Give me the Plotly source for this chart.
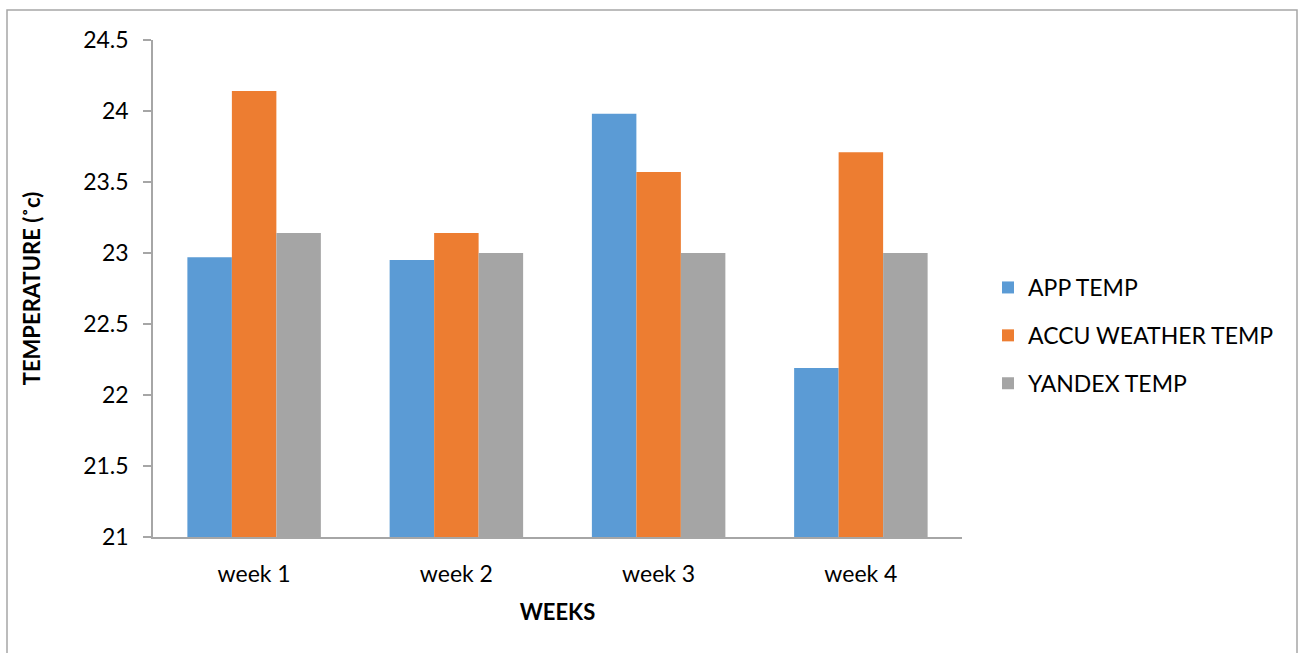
import plotly.graph_objects as go

weeks = ["week 1", "week 2", "week 3", "week 4"]
app_temp = [22.97, 22.95, 23.98, 22.19]
accu_temp = [24.14, 23.14, 23.57, 23.71]
yandex_temp = [23.14, 23.00, 23.00, 23.00]

series = [
    ("APP TEMP", app_temp, "#5B9BD5"),
    ("ACCU WEATHER TEMP", accu_temp, "#ED7D31"),
    ("YANDEX TEMP", yandex_temp, "#A5A5A5"),
]

FONT = "Lato, 'Open Sans', sans-serif"
AXIS_GREY = "#A6A6A6"

fig = go.Figure()
for i, (name, vals, color) in enumerate(series):
    fig.add_trace(go.Bar(
        x=weeks, y=vals, name=name,
        marker=dict(color=color, line=dict(width=0)),
        legendgroup=str(i),
    ))

# plot area in pixels: x 153..962, y 40..537
W, H = 1303, 653
L, R, T, B = 153, 341, 40, 116
pw, ph = W - L - R, H - T - B

def px_x(px):
    return (px - L) / pw

def px_y(py):
    return (H - B - py) / ph

fig.update_layout(
    width=W, height=H,
    margin=dict(l=L, r=R, t=T, b=B),
    paper_bgcolor="white", plot_bgcolor="white",
    font=dict(family=FONT, size=23, color="#000000"),
    barmode="group", bargap=0.34, bargroupgap=0,
    showlegend=True,
    legend=dict(
        x=px_x(988), y=px_y(266), xanchor="left", yanchor="top",
        font=dict(size=23), tracegroupgap=15,
        itemwidth=30, bgcolor="rgba(0,0,0,0)",
    ),
    xaxis=dict(
        showline=True, linecolor=AXIS_GREY, linewidth=1.5,
        ticks="", showgrid=False, tickfont=dict(size=23),
        ticklabelstandoff=16,
        title=dict(text="<b>WEEKS</b>", font=dict(size=22), standoff=18),
    ),
    yaxis=dict(
        range=[21, 24.5], dtick=0.5, tick0=21,
        showline=True, linecolor=AXIS_GREY, linewidth=1.5,
        ticks="outside", ticklen=8, tickcolor=AXIS_GREY, tickwidth=1.5,
        showgrid=False, zeroline=False, tickfont=dict(size=23),
        ticklabelstandoff=10,
        title=dict(text="<b>TEMPERATURE (˚c)</b>", font=dict(size=22), standoff=36),
    ),
    shapes=[
        dict(type="rect", xref="paper", yref="paper",
             x0=px_x(7), x1=px_x(1297), y0=px_y(670), y1=px_y(10),
             line=dict(color="#A6A6A6", width=1.5), fillcolor="rgba(0,0,0,0)",
             layer="below"),
    ],
)

fig.write_html("out.html")
